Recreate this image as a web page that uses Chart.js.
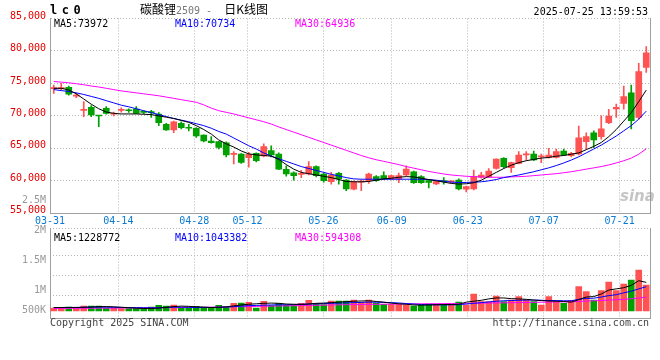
<!DOCTYPE html>
<html><head><meta charset="utf-8">
<script src="https://cdn.jsdelivr.net/npm/chart.js@4.4.1/dist/chart.umd.min.js"></script>
<style>
html,body{margin:0;padding:0;background:#fff;}
#wrap{position:relative;width:660px;height:360px;overflow:hidden;background:#fff;font-family:'DejaVu Sans Mono',monospace;}
.t{position:absolute;white-space:pre;font-size:10px;line-height:12px;font-family:'DejaVu Sans Mono',monospace;}
canvas{position:absolute;left:0;}
</style></head><body>
<div id="wrap">
<canvas id="main" width="660" height="228" style="top:0px"></canvas>
<canvas id="vol" width="660" height="150" style="top:190px"></canvas>
<div class="t" style="left:50px;top:4px;font-weight:bold;font-size:12px;letter-spacing:4.5px;color:#000">lc0</div>
<div class="t" style="left:140px;top:2px;font-size:12px;line-height:14px;color:#000;font-family:'Noto Sans CJK SC'">碳酸锂<span style="font-family:'DejaVu Sans Mono';font-size:10px;color:#777">2509 -  </span>日K线图</div>
<div class="t" style="right:12px;top:6px;color:#000">2025-07-25 13:59:53</div>
<div class="t" style="left:54px;top:18px;color:#000">MA5:73972</div>
<div class="t" style="left:175px;top:18px;color:#0000ff">MA10:70734</div>
<div class="t" style="left:295px;top:18px;color:#ff00ff">MA30:64936</div>
<div class="t" style="left:54px;top:232px;color:#000">MA5:1228772</div>
<div class="t" style="left:175px;top:232px;color:#0000ff">MA10:1043382</div>
<div class="t" style="left:295px;top:232px;color:#ff00ff">MA30:594308</div>
<div class="t" style="left:50px;top:317px;color:#444">Copyright 2025 SINA.COM</div>
<div class="t" style="right:11px;top:317px;color:#444">http://finance.sina.com.cn</div>
<div class="t" style="left:620px;top:187px;font-family:'DejaVu Sans';font-style:italic;font-weight:bold;font-size:15px;line-height:18px;color:rgba(150,150,150,0.55)">sina</div>
</div>
<script>
const dates = ['03-31','04-01','04-02','04-03','04-07','04-08','04-09','04-10','04-11','04-14','04-15','04-16','04-17','04-18','04-21','04-22','04-23','04-24','04-25','04-28','04-29','04-30','05-06','05-07','05-08','05-09','05-12','05-13','05-14','05-15','05-16','05-19','05-20','05-21','05-22','05-23','05-26','05-27','05-28','05-29','05-30','06-03','06-04','06-05','06-06','06-09','06-10','06-11','06-12','06-13','06-16','06-17','06-18','06-19','06-20','06-23','06-24','06-25','06-26','06-27','06-30','07-01','07-02','07-03','07-04','07-07','07-08','07-09','07-10','07-11','07-14','07-15','07-16','07-17','07-18','07-21','07-22','07-23','07-24','07-25'];
const dateTickLabels = ['03-31','04-14','04-28','05-12','05-26','06-09','06-23','07-07','07-21'];
const priceTicks = [55000,60000,65000,70000,75000,80000,85000];

const open  = [74200,74200,74400,73050,70850,71320,70050,71170,70250,70850,70850,71060,70600,70550,70290,68700,67830,68860,68200,68090,67060,66130,66030,65870,64080,64130,63560,64240,63820,64640,64130,61780,61250,61000,61050,62180,61050,59870,61160,60130,58700,59800,60020,60640,60790,60280,60280,60900,61400,60640,60020,59510,59900,59850,60130,58700,58740,60540,60640,61930,63470,62020,62700,64000,64130,63700,63620,63620,64590,63870,64130,66030,67410,66800,68950,71060,71940,73570,69780,77480];
const close = [74300,74340,73330,73110,70900,70140,69980,70400,70290,70910,70800,70400,70550,70500,68950,67830,69100,68180,68100,66900,66130,65870,65160,63980,64130,62850,64080,63100,65260,63980,61780,61050,60790,61050,62180,60790,60020,60900,60280,58740,59870,59870,61050,60020,60280,60790,60790,61820,59710,59710,59770,59870,59870,59870,58740,59100,60640,60900,61510,63360,62180,62800,63980,64080,63210,63720,63980,64490,63980,64240,66640,66800,66290,68000,69980,71320,72960,69260,76810,79730];
const high  = [74760,75010,74600,73480,72190,71600,70100,71450,70600,71250,71100,71450,70800,70860,70500,68850,69200,69100,68700,68200,67100,66800,66100,66000,64500,64200,64380,64300,65700,65400,64300,62300,61400,61600,62950,62300,61200,61300,61300,60200,60000,60130,61200,60800,61400,60900,61200,62300,61500,60800,60200,60000,60500,60000,60300,59200,61650,61300,61900,63400,63600,62900,64500,64500,64600,64130,65000,64900,64900,64400,68440,67400,67700,70000,71000,71830,74600,74760,78100,80660];
const low   = [73480,73990,73200,72800,69880,69900,68340,70250,70000,70580,70550,70350,70350,69780,68500,67750,67400,68000,67700,66700,66000,65800,64900,63700,62600,62700,62100,62900,63700,63700,61700,60700,60100,60500,60900,60600,59800,59500,59500,58500,58600,58500,59600,59900,60200,60200,59700,60800,59600,59600,58900,59400,59500,59700,58600,58300,58600,60400,60500,61800,62000,61300,62600,63200,63100,62800,63500,63500,63900,63700,64000,64900,65100,66400,68800,69780,71020,68000,69480,76710];

const ma5  = [74250,74250,74000,73400,72600,71800,71100,70600,70400,70300,70300,70300,70250,70200,70000,69800,69600,69300,69000,68500,67900,67200,66300,65700,65200,64600,64150,64000,63900,63800,63300,62500,61800,61300,61100,60900,60700,60500,60200,59900,59850,59850,59900,60100,60300,60400,60550,60650,60600,60400,60200,60000,59800,59600,59500,59550,59700,60100,60700,61300,61900,62400,62800,63100,63300,63500,63600,63800,63900,64100,64300,64800,65300,65900,66800,67900,69200,70500,72200,73972];
const ma10 = [74050,73900,73750,73550,73300,73000,72700,72350,72000,71650,71400,71100,70800,70500,70200,69900,69600,69350,69100,68800,68500,68100,67600,67200,66600,66000,65400,64900,64300,63800,63400,63000,62600,62200,61900,61600,61300,61000,60750,60500,60300,60250,60250,60250,60250,60250,60250,60250,60250,60250,60200,60100,59950,59800,59750,59750,59800,59850,60000,60200,60500,60700,60900,61150,61400,61700,62000,62350,62750,63200,63700,64300,64900,65500,66200,66900,67700,68500,69500,70734];
const ma30 = [75300,75200,75100,74950,74800,74600,74450,74250,74050,73850,73700,73550,73400,73250,73100,72900,72700,72500,72300,72100,71700,71200,70800,70550,70300,70000,69700,69400,69100,68750,68300,67900,67500,67100,66700,66300,65900,65500,65100,64700,64300,63900,63550,63250,63000,62750,62500,62200,61950,61700,61450,61250,61050,60900,60800,60700,60650,60600,60550,60550,60550,60600,60650,60700,60800,60900,61000,61100,61250,61400,61600,61800,62000,62200,62450,62750,63100,63500,64100,64936];

const volume = [129000,129000,172000,129000,215000,215000,215000,129000,129000,100000,100000,100000,100000,172000,243000,215000,257000,129000,129000,200000,129000,143000,243000,157000,329000,343000,372000,129000,415000,229000,329000,243000,243000,329000,458000,329000,272000,429000,429000,429000,472000,372000,472000,329000,286000,286000,286000,257000,215000,257000,300000,286000,286000,257000,386000,257000,730000,400000,400000,644000,400000,472000,615000,472000,400000,257000,615000,400000,329000,443000,1044000,830000,472000,873000,1245000,873000,1159000,1330000,1760000,1116000];
const vma5  = [150000,150000,150000,150000,160000,170000,190000,190000,180000,160000,140000,120000,110000,110000,125000,160000,190000,210000,200000,180000,170000,150000,160000,180000,220000,260000,290000,310000,330000,340000,330000,300000,290000,280000,300000,330000,340000,360000,380000,400000,420000,430000,440000,410000,380000,340000,310000,290000,260000,250000,260000,270000,280000,280000,290000,380000,420000,460000,520000,560000,560000,530000,520000,500000,470000,450000,430000,420000,410000,380000,490000,600000,620000,730000,900000,950000,1000000,1100000,1300000,1228772];
const vma10 = [150000,150000,155000,155000,160000,165000,170000,165000,160000,155000,150000,145000,140000,135000,140000,150000,160000,165000,160000,150000,150000,150000,160000,170000,190000,210000,230000,240000,250000,260000,265000,270000,280000,290000,300000,310000,320000,330000,340000,350000,360000,370000,380000,375000,370000,360000,345000,320000,300000,280000,270000,265000,260000,265000,270000,300000,330000,360000,390000,420000,440000,450000,460000,470000,470000,460000,450000,450000,440000,440000,500000,540000,550000,600000,660000,700000,780000,850000,950000,1043382];
const vma30 = [110000,112000,114000,116000,118000,120000,122000,124000,126000,128000,130000,133000,136000,139000,142000,145000,148000,151000,154000,157000,160000,165000,170000,175000,180000,186000,192000,198000,204000,210000,216000,222000,228000,234000,240000,246000,252000,258000,264000,270000,275000,280000,284000,288000,292000,296000,300000,303000,306000,309000,312000,315000,318000,321000,324000,327000,332000,337000,342000,347000,352000,357000,362000,367000,372000,377000,382000,387000,392000,397000,410000,425000,438000,452000,468000,484000,500000,525000,555000,594308];
const volTickValues = [2500000,2000000,1500000,1000000,500000];
const volTickLabels = ['2.5M','2M','1.5M','1M','500K'];
const volGridSteps = [1,2,3,4.325];

const RED = '#ff5252', GREEN = '#00a000';
const candleColor = close.map((c,i)=> c>=open[i] ? RED : GREEN);
const GRID = '#b4b4b4', AXIS = '#a0a0a0';
const monoFont = {family:'DejaVu Sans Mono', size:10};
const dateAxisTicks = s => { s.ticks = dateTickLabels.map(d => ({value: dates.indexOf(d)})); };
const lastVolIdx = volTickValues.length - 1;

function lineDs(data, color, yid){
  return {type:'line', data, borderColor:color, borderWidth:1, pointRadius:0, tension:0, order:0, yAxisID:yid, xAxisID:'x'};
}

new Chart(document.getElementById('main'), {
  type:'bar',
  data:{labels:dates, datasets:[
    lineDs(ma5,'#000000','y'),
    lineDs(ma10,'#0000ff','y'),
    lineDs(ma30,'#ff00ff','y'),
    {data: open.map((o,i)=>[o, close[i]]), backgroundColor:candleColor, barThickness:6, minBarLength:1, grouped:false, order:1, xAxisID:'x', yAxisID:'y'},
    {data: low.map((l,i)=>[l, high[i]]), backgroundColor:candleColor, barThickness:1, grouped:false, order:2, xAxisID:'x', yAxisID:'y'}
  ]},
  options:{
    responsive:false, animation:false, devicePixelRatio:1,
    layout:{padding:{top:18.5,left:0,right:0,bottom:0}},
    plugins:{legend:{display:false}, tooltip:{enabled:false}},
    scales:{
      x:{type:'category', offset:true, display:false},
      xg:{type:'linear', position:'bottom', offset:false, min:0, max:dates.length-1, afterBuildTicks:dateAxisTicks,
          ticks:{callback:v=>dates[v], color:'#0a7ad4', font:monoFont, padding:2, autoSkip:false, maxRotation:0},
          grid:{color:GRID, drawTicks:false, offset:false}, border:{color:AXIS, dash:[1,2]}, afterFit:s=>{s.height=14.7;}},
      y:{position:'left', min:55000, max:85000, afterBuildTicks:s=>{s.ticks=priceTicks.map(v=>({value:v}));},
          ticks:{color:'#e60000', font:monoFont, padding:4, labelOffset:-2.5, autoSkip:false},
          grid:{color:GRID, drawTicks:false}, border:{color:AXIS, dash:[1,2]}, afterFit:s=>{s.width=50;}},
      yr:{position:'right', min:55000, max:85000, ticks:{display:false}, grid:{display:false, drawTicks:false}, border:{color:AXIS}, afterFit:s=>{s.width=10;}}
    }
  }
});

new Chart(document.getElementById('vol'), {
  type:'bar',
  data:{labels:dates, datasets:[
    lineDs(vma5,'#000000','y'),
    lineDs(vma10,'#0000ff','y'),
    lineDs(vma30,'#ff00ff','y'),
    {data: volume, backgroundColor:candleColor, barThickness:6, grouped:false, order:1, xAxisID:'x', yAxisID:'y'}
  ]},
  options:{
    responsive:false, animation:false, devicePixelRatio:1,
    layout:{padding:{top:38.5,left:0,right:0,bottom:22}},
    plugins:{legend:{display:false}, tooltip:{enabled:false}},
    scales:{
      x:{type:'category', offset:true, display:false},
      xg:{type:'linear', position:'bottom', offset:false, min:0, max:dates.length-1, afterBuildTicks:dateAxisTicks,
          ticks:{display:false}, grid:{color:GRID, drawTicks:false, offset:false}, border:{color:AXIS, dash:[1,2]}, afterFit:s=>{s.height=0;}},
      y:{display:false, min:-300000, max:3541000},
      yl:{position:'left', weight:1, min:541700, max:2033300, afterBuildTicks:s=>{s.ticks=volTickValues.map(v=>({value:v}));},
          ticks:{
            callback:(v,i)=> i===lastVolIdx ? [volTickLabels[i], ''] : volTickLabels[i],
            color:'#999', padding:4, autoSkip:false,
            font: c => (c.index===lastVolIdx ? {family:'DejaVu Sans Mono', size:10, lineHeight:'20px'} : monoFont)
          },
          grid:{display:false, drawTicks:false}, border:{color:AXIS}, afterFit:s=>{s.width=50;}},
      yg:{position:'left', weight:0, min:-0.15, max:4.325, afterBuildTicks:s=>{s.ticks=volGridSteps.map(v=>({value:v}));},
          ticks:{display:false}, grid:{color:GRID, drawTicks:false}, border:{display:false, dash:[1,2]}, afterFit:s=>{s.width=0;}},
      yr:{position:'right', ticks:{display:false}, grid:{display:false, drawTicks:false}, border:{color:AXIS}, afterFit:s=>{s.width=10;}}
    }
  }
});
</script>
</body></html>
